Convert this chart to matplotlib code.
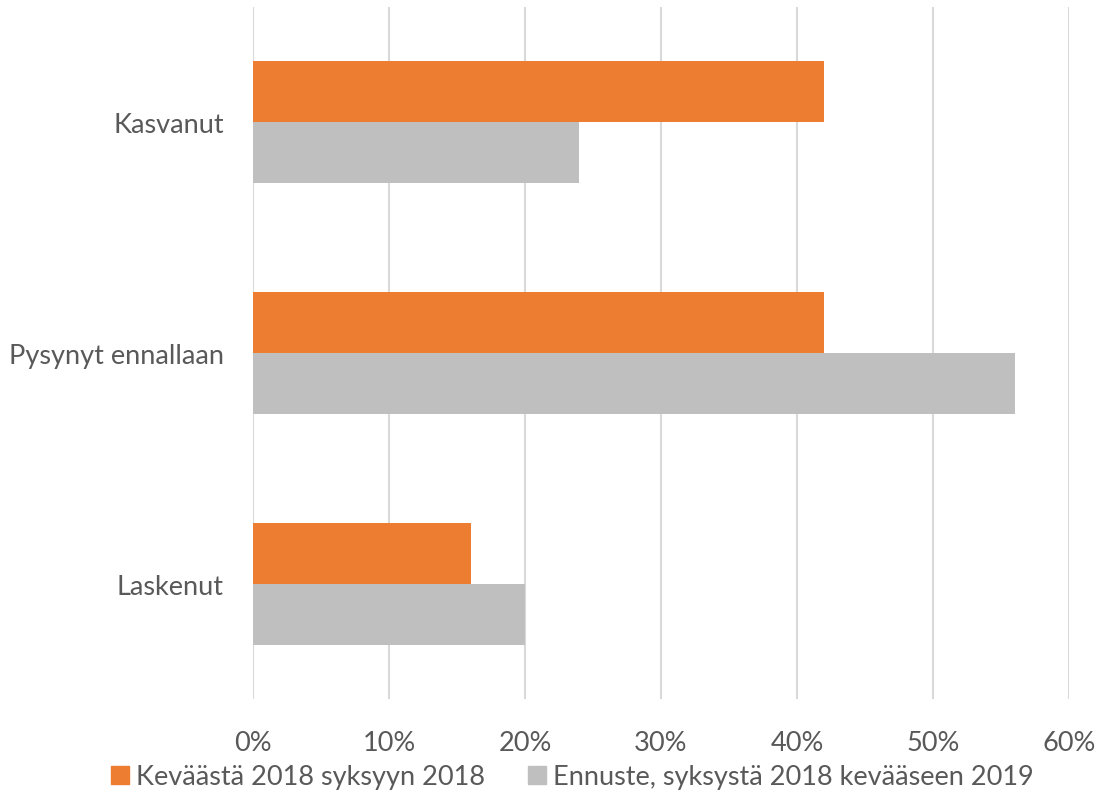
import matplotlib.pyplot as plt
from matplotlib.lines import Line2D
import numpy as np

categories = ["Kasvanut", "Pysynyt ennallaan", "Laskenut"]
spring_to_autumn_2018 = [42, 42, 16]
forecast_2018_2019 = [24, 56, 20]
series_labels = ["Keväästä 2018 syksyyn 2018", "Ennuste, syksystä 2018 kevääseen 2019"]
x_ticks = [0, 10, 20, 30, 40, 50, 60]

orange = "#ED7D31"
grey = "#BFBFBF"
text_col = "#595959"

plt.rcParams['font.family'] = ['Lato', 'DejaVu Sans']

fig = plt.figure(figsize=(10.99, 8.03), dpi=100)
ax = fig.add_axes([253 / 1099, 103 / 803, 816 / 1099, 692 / 803])

y = np.arange(len(categories))
h = 0.264
ax.barh(y - h / 2, spring_to_autumn_2018, height=h, color=orange, zorder=3)
ax.barh(y + h / 2, forecast_2018_2019, height=h, color=grey, zorder=3)

ax.set_xlim(0, 60)
ax.set_ylim(2.5, -0.5)
ax.set_xticks(x_ticks)
ax.set_xticklabels([f"{t}%" for t in x_ticks])
ax.set_yticks(y)
ax.set_yticklabels(categories)
ax.tick_params(axis='both', length=0, labelsize=19.5, labelcolor=text_col)
ax.tick_params(axis='y', pad=21)
ax.tick_params(axis='x', pad=22)
ax.grid(axis='x', color="#D9D9D9", linewidth=1.5, zorder=0)
for s in ax.spines.values():
    s.set_visible(False)

handles = [Line2D([], [], marker='s', linestyle='', markersize=13, color=c)
           for c in (orange, grey)]
fig.legend(handles, series_labels, loc='center', bbox_to_anchor=(570 / 1099, 25 / 803),
           ncol=2, frameon=False, fontsize=19.5, labelcolor=text_col,
           handletextpad=0.1, columnspacing=1.4, handlelength=1.0)

fig.savefig("out.png", dpi=100)
